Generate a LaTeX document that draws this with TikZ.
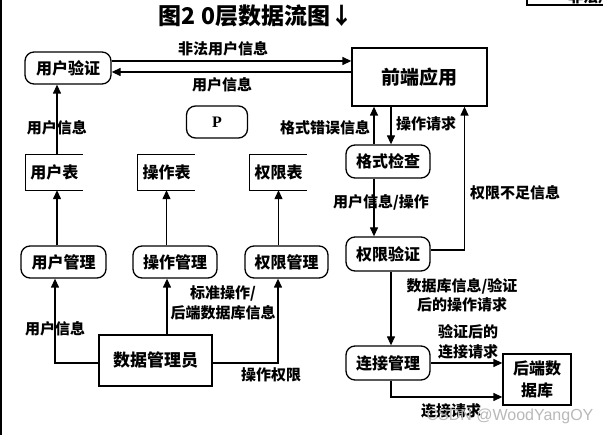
\documentclass[tikz,border=0pt]{standalone}
\usepackage{fontspec}
\setmainfont{Noto Sans CJK SC}
\newfontfamily\serifP{Liberation Serif}
\newfontfamily\wmfont{Liberation Sans}
\usetikzlibrary{arrows.meta}
\tikzset{
  base/.style={draw, line width=1.3pt, align=center, inner sep=0pt, font=\bfseries\fontsize{16}{18}\selectfont},
  rbox/.style={base, rounded corners=9pt},
  sbox/.style={base},
  store/.style={align=center, inner sep=0pt, font=\bfseries\fontsize{16}{18}\selectfont},
  lbl/.style={align=center, inner sep=0pt, font=\bfseries\fontsize{15}{19.5}\selectfont},
  arr/.style={line width=1.3pt, -{Triangle[length=9pt,width=8pt]}},
  ln/.style={line width=1.3pt},
}
\begin{document}
\begin{tikzpicture}[x=1pt,y=-1pt]
\useasboundingbox (0,0) rectangle (603,435);
\fill[white] (0,0) rectangle (603,435);
% edges of the captured page
\draw[ln] (1,0) -- (1,435);
\begin{scope}
\clip (0,0) rectangle (603,435);
\draw[ln] (527,-10) -- (527,5) -- (610,5);
\node[lbl, anchor=south west] (cut) at (568,4) {非法用户信息};
\end{scope}
% title
\node[font=\bfseries\fontsize{23}{25}\selectfont, inner sep=0pt] (title) at (256,16) {图2\ 0层数据流图↓};
% nodes
\node[rbox, minimum width=86pt, minimum height=32pt] (yhyz) at (68,68) {用户验证};
\node[sbox, minimum width=135pt, minimum height=58pt, font=\bfseries\fontsize{19}{21}\selectfont] (qd) at (419.5,77) {前端应用};
\node[rbox, minimum width=61pt, minimum height=32pt, font=\serifP\bfseries\fontsize{16}{18}\selectfont] (P) at (217,122) {P};
\node[rbox, minimum width=84pt, minimum height=33pt] (gsjc) at (388,161.5) {格式检查};
\node[rbox, minimum width=84pt, minimum height=34pt] (qxyz) at (388,254) {权限验证};
\node[rbox, minimum width=84pt, minimum height=34pt] (ljgl) at (388,363) {连接管理};
\node[sbox, minimum width=68pt, minimum height=51pt, font=\bfseries\fontsize{16}{22}\selectfont] (hd) at (537,379.5) {后端数\\据库};
\node[store, minimum width=57pt, minimum height=35pt] (yhb) at (54.5,172.5) {用户表};
\node[store, minimum width=57pt, minimum height=35pt] (czb) at (166.5,172.5) {操作表};
\node[store, minimum width=57pt, minimum height=35pt] (qxb) at (278.5,172.5) {权限表};
\foreach \s in {yhb,czb,qxb}{
  \draw[ln] (\s.north east) -- (\s.north west) -- (\s.south west) -- (\s.south east);
}
\node[rbox, minimum width=85pt, minimum height=32pt] (yhgl) at (63.5,262) {用户管理};
\node[rbox, minimum width=84pt, minimum height=32pt] (czgl) at (175,262) {操作管理};
\node[rbox, minimum width=83pt, minimum height=32pt] (qxgl) at (286.5,262) {权限管理};
\node[sbox, minimum width=113pt, minimum height=51pt, font=\bfseries\fontsize{17}{19}\selectfont] (sjgly) at (155.5,360.5) {数据管理员};
% connectors
\draw[arr] ([yshift=7pt]yhyz.east) -- ([yshift=7pt]yhyz.east -| qd.west);
\draw[arr] ([yshift=-4pt]yhyz.east -| qd.west) -- ([yshift=-4pt]yhyz.east);
\node[lbl] (l1) at (223,49) {非法用户信息};
\node[lbl] (l2) at (222,85) {用户信息};
\draw[arr] ([xshift=-14pt]gsjc.north) -- ([xshift=-14pt]gsjc.north |- qd.south);
\draw[arr] ([xshift=3pt]gsjc.north |- qd.south) -- ([xshift=3pt]gsjc.north);
\node[lbl] (l3) at (325,128) {格式错误信息};
\node[lbl] (l4) at (426,124) {操作请求};
\draw[arr] ([xshift=-14pt]gsjc.south) -- ([xshift=-14pt]qxyz.north);
\node[lbl] (l5) at (381,202) {用户信息/操作};
\coordinate (qdR) at ([xshift=45pt]qd.south);
\draw[arr] ([yshift=4pt]qxyz.east) -| (qdR);
\node[lbl] (l6) at (515,193) {权限不足信息};
\draw[arr] ([xshift=3pt]qxyz.south) -- ([xshift=3pt]ljgl.north);
\node[lbl] (l7) at (462,295) {数据库信息/验证\\后的操作请求};
\draw[arr] (ljgl.east) -- (ljgl.east -| hd.west);
\node[lbl] (l8) at (468,342) {验证后的\\连接请求};
\draw[arr] ([xshift=3pt]ljgl.south) |- ([yshift=-17.5pt]hd.west);
\node[lbl] (l9) at (451,411) {连接请求};
\draw[arr] ([xshift=2.5pt]yhb.north) -- ([xshift=2.5pt]yhb.north |- yhyz.south);
\node[lbl] (l10) at (57,128) {用户信息};
\draw[arr] ([xshift=2.5pt]yhb.south |- yhgl.north) -- ([xshift=2.5pt]yhb.south);
\draw[arr] (czb.south |- czgl.north) -- (czb.south);
\draw[arr] (qxb.south |- qxgl.north) -- (qxb.south);
\draw[arr] ([yshift=-2.5pt]sjgly.west) -| ([xshift=-8.5pt]yhgl.south);
\draw[arr] ([xshift=-8pt]czgl.south |- sjgly.north) -- ([xshift=-8pt]czgl.south);
\draw[arr] ([yshift=-2.5pt]sjgly.east) -| ([xshift=-8.5pt]qxgl.south);
\node[lbl] (l11) at (55,329) {用户信息};
\node[lbl] (l12) at (223,303) {标准操作/\\后端数据库信息};
\node[lbl] (l13) at (271,375) {操作权限};
% watermark
\node[font=\wmfont\fontsize{16}{18}\selectfont, text=gray!55, inner sep=0pt] (wm) at (510,416) {CSDN @WoodYangOY};
\end{tikzpicture}
\end{document}
